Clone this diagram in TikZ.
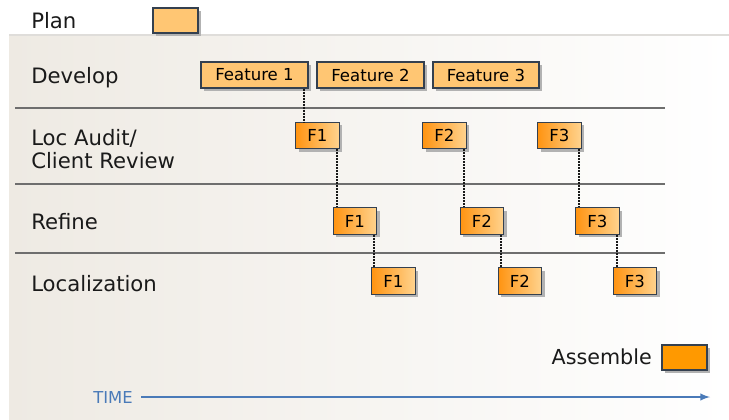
\documentclass[tikz,border=0pt]{standalone}
\usepackage{fontspec}
\setmainfont{DejaVu Sans}
\usetikzlibrary{shadows,calc}
\definecolor{boxline}{HTML}{34404F}
\definecolor{lightor}{HTML}{FFC673}
\definecolor{deepor}{HTML}{FF9412}
\definecolor{paleor}{HTML}{FFD38E}
\definecolor{assem}{HTML}{FF9900}
\definecolor{panelL}{HTML}{EEEAE3}
\definecolor{rule}{HTML}{6E6E6E}
\definecolor{timeblue}{HTML}{4A7AB8}
\definecolor{txt}{HTML}{1A1A1A}
\tikzset{
  px/.style={x=0.75pt,y=-0.75pt},
  shadowed/.style={drop shadow={shadow xshift=2.25pt,shadow yshift=-2.25pt,fill=black!30,opacity=1}},
  featbox/.style={draw=boxline,line width=0.8pt,fill=lightor,shadowed,inner sep=0pt,
     minimum height=19.5pt,font=\fontsize{12.4}{14}\selectfont,text=black},
  fbox/.style={draw=boxline,line width=0.8pt,left color=deepor,right color=paleor,shadowed,inner sep=0pt,
     minimum width=32.5pt,minimum height=20pt,font=\fontsize{12.4}{14}\selectfont,text=black},
  rowlabel/.style={anchor=west,inner sep=0pt,font=\fontsize{15.9}{17.25}\selectfont,text=txt,align=left},
  conn/.style={black!90,line width=1.5pt,dash pattern=on 1.5pt off 0.75pt},
  rowrule/.style={rule,line width=1.1pt},
}
\begin{document}
\begin{tikzpicture}[px]
\useasboundingbox (0,0) rectangle (729,419);
% panel
\shade[left color=panelL,right color=white] (9,35) rectangle (729,419);
\draw[color=panelL!85!black!60,line width=1pt] (9,35) -- (729,35);
% rules
\draw[rowrule] (15,108) -- (665,108);
\draw[rowrule] (15,184) -- (665,184);
\draw[rowrule] (15,253) -- (665,253);
% labels
\node[rowlabel] (lplan) at (31,21) {Plan};
\node[rowlabel] (ldev) at (31,78) {Develop};
\node[rowlabel] (laud) at (31,149.5) {Loc Audit/\\Client Review};
\node[rowlabel] (lref) at (31,222) {Refine};
\node[rowlabel] (lloc) at (31,284) {Localization};
% plan box
\node[featbox,minimum width=33.75pt,minimum height=18.75pt] (plan) at (175.5,20.5) {};
% features
\node[featbox,minimum width=80.25pt] (f1) at (254.5,75) {Feature 1};
\node[featbox,minimum width=80.25pt] (f2) at (370.5,75) {Feature 2};
\node[featbox,minimum width=79.5pt] (f3) at (486,75) {Feature 3};
% audit
\node[fbox] (a1) at (317.5,135.5) {F1};
\node[fbox] (a2) at (444.5,135.5) {F2};
\node[fbox] (a3) at (559.5,135.5) {F3};
% refine
\node[fbox] (r1) at (355,221) {F1};
\node[fbox] (r2) at (482,221) {F2};
\node[fbox] (r3) at (597.5,221) {F3};
% localization
\node[fbox] (l1) at (393.5,281) {F1};
\node[fbox] (l2) at (520,281) {F2};
\node[fbox] (l3) at (635,281) {F3};
% connectors
\draw[conn] ([xshift=-3.75pt]f1.south east) -- ([xshift=-3.75pt]f1.south east |- a1.north);
\draw[conn] ([xshift=-2.25pt]a1.south east) -- ([xshift=-2.25pt]a1.south east |- r1.north);
\draw[conn] ([xshift=-2.25pt]r1.south east) -- ([xshift=-2.25pt]r1.south east |- l1.north);
\draw[conn] ([xshift=-2.25pt]a2.south east) -- ([xshift=-2.25pt]a2.south east |- r2.north);
\draw[conn] ([xshift=-2.25pt]r2.south east) -- ([xshift=-2.25pt]r2.south east |- l2.north);
\draw[conn] ([xshift=-2.25pt]a3.south east) -- ([xshift=-2.25pt]a3.south east |- r3.north);
\draw[conn] ([xshift=-2.25pt]r3.south east) -- ([xshift=-2.25pt]r3.south east |- l3.north);
% assemble
\node[draw=boxline,line width=0.8pt,fill=assem,shadowed,minimum width=33.75pt,minimum height=18.75pt,inner sep=0pt] (asm) at (684.5,357.5) {};
\node[anchor=east,inner sep=0pt,font=\fontsize{15.5}{17}\selectfont,text=txt] (lasm) at (652,357) {Assemble};
% time
\node[anchor=east,inner sep=0pt,font=\fontsize{12.3}{13}\selectfont,text=timeblue] (time) at (133,397.5) {TIME};
\coordinate (tend) at (710,397);
\draw[timeblue,line width=1.5pt,-latex] ([xshift=6pt]time.east |- tend) -- (tend);
\end{tikzpicture}
\end{document}
